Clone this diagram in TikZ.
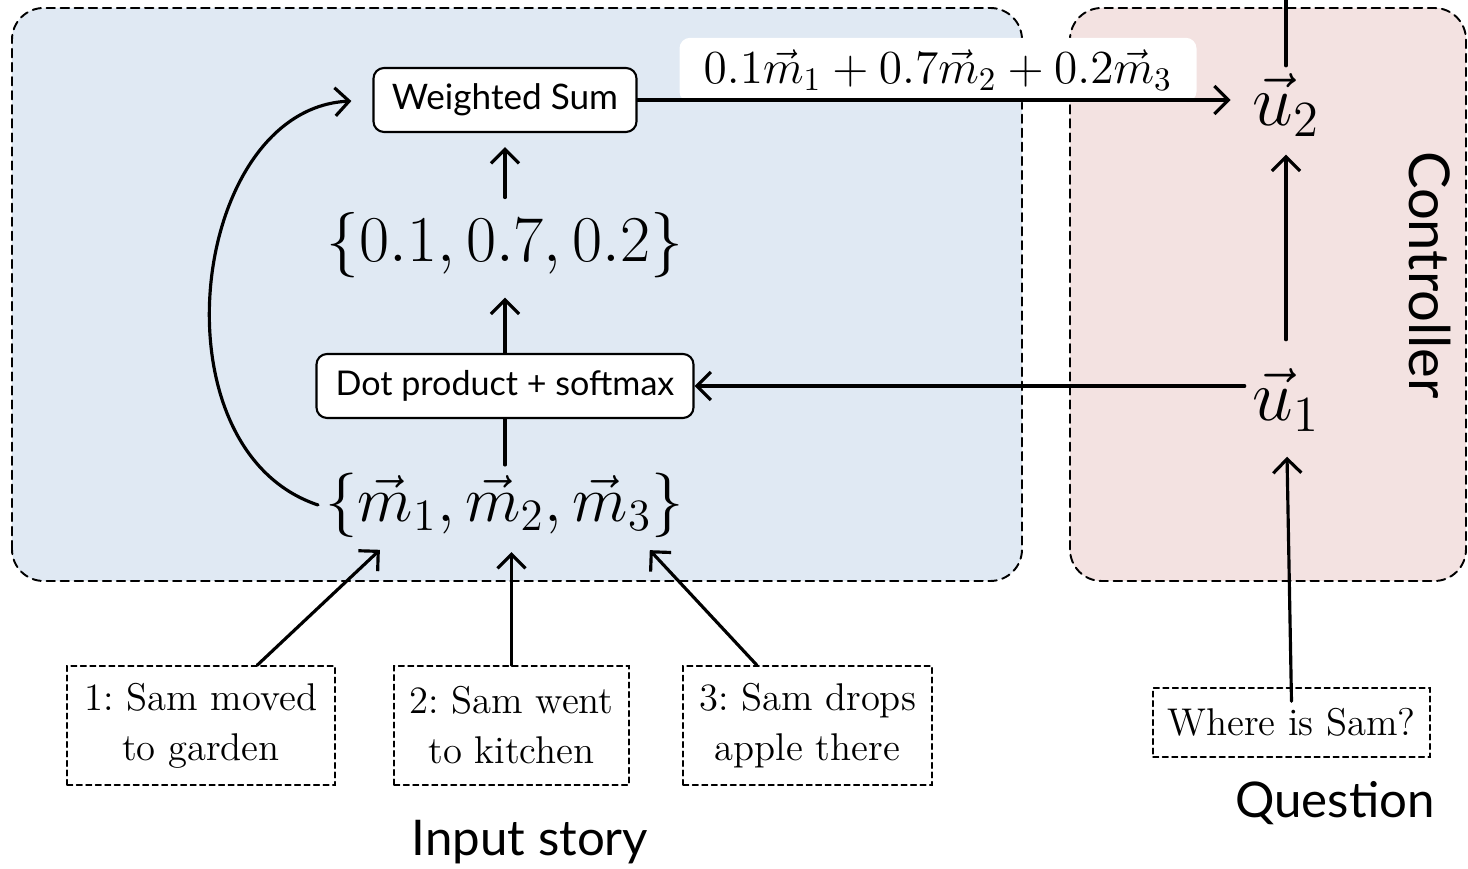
\documentclass[tikz,border=0pt]{standalone}
\usepackage{fontspec}
\newfontfamily\sansfont{Lato}
\usetikzlibrary{arrows.meta}

\begin{document}
\begin{tikzpicture}[line cap=round]
  \tikzset{
    flow/.style={-{Straight Barb[length=4pt,width=8pt]},line width=0.9pt},
    panel/.style={dash pattern=on 2.4pt off 1.6pt,line width=0.55pt,rounded corners=9pt},
    opbox/.style={draw,line width=0.6pt,rounded corners=3pt,fill=white,minimum height=0.64cm,
      font=\sansfont\fontsize{10}{12}\selectfont},
    mathlbl/.style={inner sep=2pt},
    story/.style={draw,fill=white,dash pattern=on 1.6pt off 1.1pt,line width=0.4pt,align=center,
      minimum height=1.19cm,font=\fontsize{11}{14.2}\selectfont\frenchspacing},
    caption/.style={font=\sansfont\fontsize{14}{16}\selectfont}
  }
  \definecolor{memfill}{RGB}{224,233,243}
  \definecolor{ctrlfill}{RGB}{243,226,225}
  \useasboundingbox (0,0) rectangle (14.68,8.69);

  % Memory and controller panels
  \draw[panel,fill=memfill] (0.12,2.88) rectangle (10.22,8.61);
  \draw[panel,fill=ctrlfill] (10.70,2.88) rectangle (14.66,8.61);

  % Memory side
  \node[opbox,minimum width=2.63cm] (wsum) at (5.05,7.69) {Weighted Sum};
  \node[mathlbl,font=\fontsize{17.28}{20}\selectfont] (probs) at (5.05,6.24)
    {\scalebox{1.077}{$\{0.1,0.7,0.2\}$}};
  \node[opbox,minimum width=3.77cm,font=\sansfont\fontsize{9.7}{12}\selectfont] (dot) at (5.05,4.83) {Dot product + softmax};
  \node[mathlbl,font=\fontsize{17.28}{20}\selectfont] (mems) at (5.05,3.64)
    {\scalebox{1.063}{$\{\vec{m}_1,\vec{m}_2,\vec{m}_3\}$}};

  % Controller side
  \node[mathlbl,font=\fontsize{20.74}{24}\selectfont] (u2) at (12.86,7.64) {$\vec{u}_2$};
  \node[mathlbl,font=\fontsize{20.74}{24}\selectfont] (u1) at (12.86,4.69) {$\vec{u}_1$};
  \node[caption,rotate=-90,font=\sansfont\fontsize{16}{18}\selectfont] (ctrl) at (14.30,5.94) {Controller};
  \coordinate (out) at (12.86,8.69);

  % Weighted sum label
  \node[fill=white,rounded corners=3pt,minimum width=5.17cm,minimum height=0.64cm,
    font=\fontsize{14.4}{17}\selectfont] (sumlbl) at (9.38,7.99)
    {\scalebox{0.937}{$0.1\vec{m}_1+0.7\vec{m}_2+0.2\vec{m}_3$}};

  % Input story and question
  \node[story,minimum width=2.68cm] (s1) at (2.01,1.435) {1: Sam moved\\to garden};
  \node[story,minimum width=2.35cm] (s2) at (5.115,1.435) {2: Sam went\\to kitchen};
  \node[story,minimum width=2.49cm] (s3) at (8.075,1.435) {3: Sam drops\\apple there};
  \node[story,minimum width=2.77cm,minimum height=0.69cm] (q) at (12.915,1.465) {Where is Sam?};
  \node[caption] (qlbl) at (13.35,0.66) {Question};
  \node[caption] (slbl) at (5.30,0.27) {Input story};

  % Arrows
  \draw[flow,shorten <=2pt,shorten >=4pt] (probs) -- (wsum);
  \draw[flow,shorten >=3.5pt] (dot) -- (probs);
  \draw[line width=0.9pt] (mems) -- (dot);
  \draw[flow,shorten >=4pt] (wsum.east) -- (wsum.east -| u2.west);
  \draw[flow] (u1.west |- dot.east) -- (dot.east);
  \draw[flow,shorten <=6pt,shorten >=3pt] (u1) -- (u2);
  \draw[line width=0.9pt] (u2) -- (out);
  \draw[flow,shorten >=5pt] ([yshift=-4pt]q.north) -- (u1);
  \draw[flow,shorten >=6pt] (mems.west) .. controls (1.5,4.2) and (1.9,7.6) .. (wsum.west);
  \draw[flow,shorten >=2pt] (s1.47) -- ([xshift=-1.2cm]mems.south);
  \draw[flow,shorten >=2pt] (s2.north) -- (s2.north |- mems.south);
  \draw[flow,shorten >=2pt] (s3.130) -- ([xshift=1.4cm]mems.south);
\end{tikzpicture}
\end{document}
